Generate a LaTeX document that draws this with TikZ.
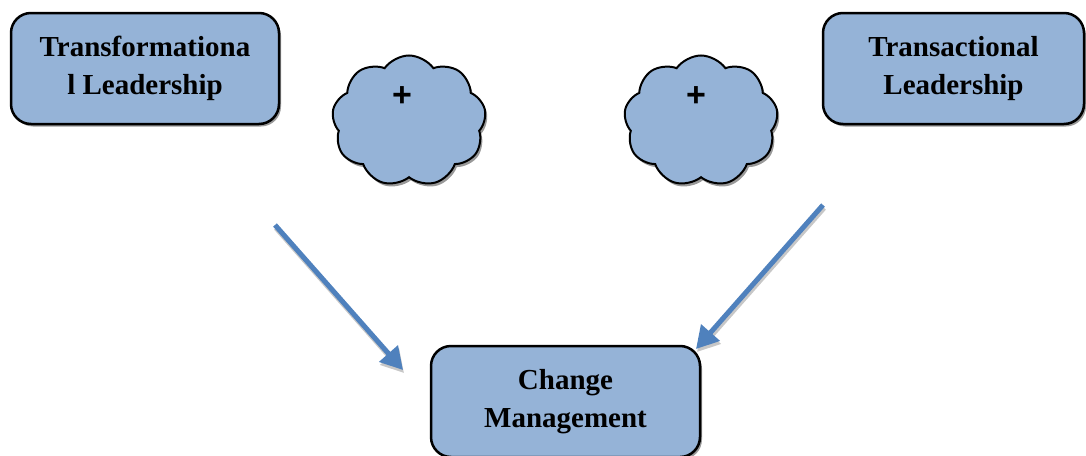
\documentclass[tikz,border=0pt]{standalone}
\usepackage{fontspec}
\setmainfont{Liberation Serif}
\setsansfont{Liberation Sans}
\usetikzlibrary{arrows.meta,shapes.symbols,shadows}
\definecolor{boxblue}{HTML}{95B3D7}
\definecolor{arrowblue}{HTML}{4F81BD}

\begin{document}
\begin{tikzpicture}[x=1pt,y=-1pt,
    leadbox/.style={draw=black, line width=2.5pt, fill=boxblue, rounded corners=20pt,
        minimum height=111pt, align=center, font=\bfseries\fontsize{29}{38}\selectfont,
        drop shadow={shadow xshift=2pt, shadow yshift=-2.5pt, fill=black!40, opacity=1}},
    puff/.style={cloud, cloud puffs=9, cloud puff arc=110, aspect=1.17, draw=black,
        line width=2pt, fill=boxblue, minimum width=154pt, minimum height=131pt,
        drop shadow={shadow xshift=2pt, shadow yshift=-3pt, fill=black!40, opacity=1}},
    plus/.style={font=\sffamily\bfseries\fontsize{34}{34}\selectfont},
    flowshadow/.style={black!22, line width=5pt, -{Triangle[length=22pt,width=24pt]},
        transform canvas={shift={(1pt,-3pt)}}},
    flow/.style={arrowblue, line width=5pt, -{Triangle[length=22pt,width=24pt]}}
]
    \clip (0,0) rectangle (1086,455);

    % the three boxes
    \node[leadbox, minimum width=268pt] (tfl) at (145,68.5) {Transformationa\\l Leadership};
    \node[leadbox, minimum width=261pt] (tsl) at (953.5,68.5) {Transactional\\Leadership};
    \node[leadbox, minimum width=269pt] (chg) at (565.5,401.5) {Change\\Management};

    % clouds with the plus signs
    \node[puff] (cl1) at (409,121) {};
    \node[plus] (pl1) at (402,97) {+};
    \node[puff] (cl2) at (701,121) {};
    \node[plus] (pl2) at (696,97) {+};

    % arrows into change management
    \coordinate (s1) at (275,225);
    \coordinate (e1) at (403,370);
    \coordinate (s2) at (823,205);
    \coordinate (e2) at (696,349);
    \draw[flowshadow] (s1) -- (e1);
    \draw[flowshadow] (s2) -- (e2);
    \draw[flow] (s1) -- (e1);
    \draw[flow] (s2) -- (e2);
\end{tikzpicture}
\end{document}
